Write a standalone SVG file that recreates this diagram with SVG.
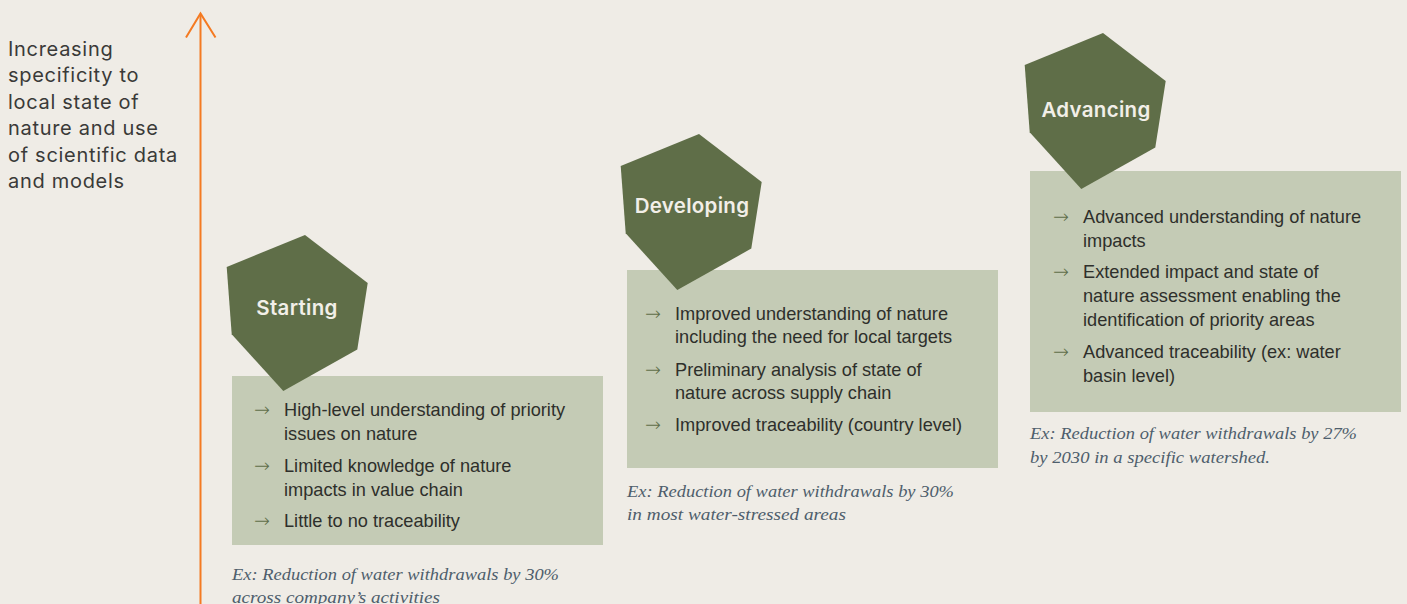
<svg xmlns="http://www.w3.org/2000/svg" width="1407" height="604" viewBox="0 0 1407 604">
<defs>
<style>
.bg{fill:#EFECE6}
.box{fill:#C4CBB5}
.hex{fill:#5F6E48}
.title{font-family:Inter,"Liberation Sans",sans-serif;font-weight:600;font-size:20.5px;fill:#F2EFE8;text-anchor:middle;letter-spacing:0.3px}
.cap{font-family:Inter,"Liberation Sans",sans-serif;font-size:20px;fill:#3A3A38;letter-spacing:0.7px}
.item{font-family:"Liberation Sans",Arial,sans-serif;font-size:18.2px;fill:#2E2F2B}
.bul{font-family:"DejaVu Sans",sans-serif;font-weight:200;font-size:19px;fill:#5F6E48}
.ex{font-family:"Liberation Serif","Times New Roman",serif;font-style:italic;font-size:17.5px;fill:#4E5E6C}
</style>
<polygon id="hexshape" points="0,0 62.7,48 52.3,114.6 -21.7,156 -73.3,99.3 -78.3,32"/>
</defs>
<rect class="bg" x="0" y="0" width="1407" height="604"/>

<g id="axis">
<line x1="200.5" y1="14" x2="200.5" y2="604" stroke="#F47A22" stroke-width="2"/>
<polyline points="186,37.5 200.5,13.5 215.5,37.5" fill="none" stroke="#F47A22" stroke-width="2"/>
<text class="cap"><tspan x="8" y="56">Increasing</tspan><tspan x="8" y="82.4">specificity to</tspan><tspan x="8" y="108.8">local state of</tspan><tspan x="8" y="135.2">nature and use</tspan><tspan x="8" y="161.6">of scientific data</tspan><tspan x="8" y="188">and models</tspan></text>
</g>

<g id="starting">
<rect class="box" x="232" y="376" width="371" height="169"/>
<use href="#hexshape" class="hex" x="305" y="235"/>
<text class="title" x="297" y="315">Starting</text>
<text class="bul" x="254" y="416">→</text>
<text class="item"><tspan x="284" y="416">High-level understanding of priority</tspan><tspan x="284" y="440">issues on nature</tspan></text>
<text class="bul" x="254" y="472">→</text>
<text class="item"><tspan x="284" y="472">Limited knowledge of nature</tspan><tspan x="284" y="496">impacts in value chain</tspan></text>
<text class="bul" x="254" y="527">→</text>
<text class="item" x="284" y="527">Little to no traceability</text>
<text class="ex"><tspan x="232" y="580" textLength="327" lengthAdjust="spacingAndGlyphs">Ex: Reduction of water withdrawals by 30%</tspan><tspan x="232" y="603" textLength="208" lengthAdjust="spacingAndGlyphs">across company’s activities</tspan></text>
</g>

<g id="developing">
<rect class="box" x="627" y="270" width="371" height="198"/>
<use href="#hexshape" class="hex" x="699" y="134"/>
<text class="title" x="692" y="213">Developing</text>
<text class="bul" x="645" y="320">→</text>
<text class="item"><tspan x="675" y="320">Improved understanding of nature</tspan><tspan x="675" y="343">including the need for local targets</tspan></text>
<text class="bul" x="645" y="376">→</text>
<text class="item"><tspan x="675" y="376">Preliminary analysis of state of</tspan><tspan x="675" y="399">nature across supply chain</tspan></text>
<text class="bul" x="645" y="431">→</text>
<text class="item" x="675" y="431">Improved traceability (country level)</text>
<text class="ex"><tspan x="627" y="497" textLength="327" lengthAdjust="spacingAndGlyphs">Ex: Reduction of water withdrawals by 30%</tspan><tspan x="627" y="520" textLength="219" lengthAdjust="spacingAndGlyphs">in most water-stressed areas</tspan></text>
</g>

<g id="advancing">
<rect class="box" x="1030" y="171" width="371" height="241"/>
<use href="#hexshape" class="hex" x="1103" y="33"/>
<text class="title" x="1096" y="117">Advancing</text>
<text class="bul" x="1053" y="223">→</text>
<text class="item"><tspan x="1083" y="223">Advanced understanding of nature</tspan><tspan x="1083" y="247">impacts</tspan></text>
<text class="bul" x="1053" y="278">→</text>
<text class="item"><tspan x="1083" y="278">Extended impact and state of</tspan><tspan x="1083" y="302">nature assessment enabling the</tspan><tspan x="1083" y="326">identification of priority areas</tspan></text>
<text class="bul" x="1053" y="358">→</text>
<text class="item"><tspan x="1083" y="358">Advanced traceability (ex: water</tspan><tspan x="1083" y="382">basin level)</tspan></text>
<text class="ex"><tspan x="1030" y="439" textLength="327" lengthAdjust="spacingAndGlyphs">Ex: Reduction of water withdrawals by 27%</tspan><tspan x="1030" y="463" textLength="240" lengthAdjust="spacingAndGlyphs">by 2030 in a specific watershed.</tspan></text>
</g>
</svg>
